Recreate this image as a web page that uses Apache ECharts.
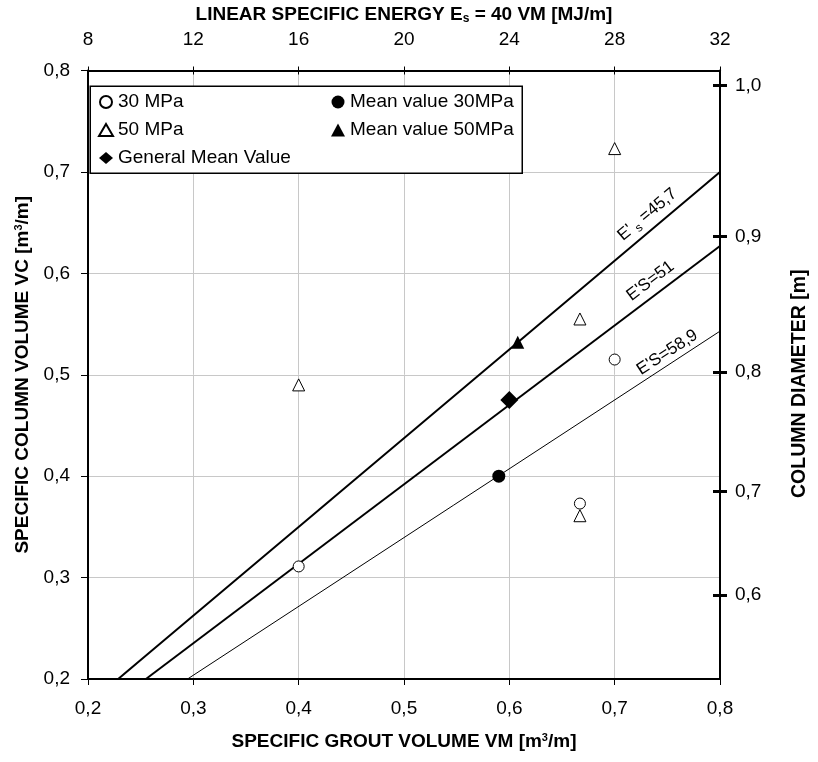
<!DOCTYPE html>
<html>
<head>
<meta charset="utf-8">
<script src="https://cdn.jsdelivr.net/npm/echarts@6/dist/echarts.min.js"></script>
<style>
  html, body { margin: 0; padding: 0; background: #fff; }
  #chart { width: 818px; height: 762px; }
</style>
</head>
<body>
<div id="chart"></div>
<script>
// measured points [VM, VC]
const mpa30 = [[0.4, 0.311], [0.667, 0.373], [0.7, 0.515]];
const mpa50 = [[0.4, 0.49], [0.667, 0.555], [0.667, 0.361], [0.7, 0.723]];
const mean30 = [[0.59, 0.40]];
const mean50 = [[0.608, 0.532]];
const generalMean = [[0.6, 0.475]];

// E's reference lines, end points
const lineEs457 = [[0.2286, 0.2], [0.8, 0.700]];
const lineEs51 = [[0.255, 0.2], [0.8, 0.627]];
const lineEs589 = [[0.2945, 0.2], [0.8, 0.543]];

// right axis: column diameter ticks
const diameterTicks = [0.6, 0.7, 0.8, 0.9, 1.0];

const FONT = "Liberation Sans";
const comma = (v, d) => v.toFixed(d).replace(".", ",");
// VC = pi * D^2 / 4
const diamPos = diameterTicks.map((d) => Math.PI * d * d / 4);

const chart = echarts.init(document.getElementById("chart"));

function openSym(name, data, symbol, size) {
  return {
    name, type: "scatter", data, symbol, symbolSize: size, z: 5,
    itemStyle: { color: "#fff", borderColor: "#000", borderWidth: 1, opacity: 1 },
  };
}
function filledSym(name, data, symbol, size) {
  return {
    name, type: "scatter", data, symbol, symbolSize: size, z: 5,
    itemStyle: { color: "#000", opacity: 1 },
  };
}
function refLine(data, width, label, pos, rot) {
  return {
    type: "line", data, symbol: "none", silent: true, z: 3,
    lineStyle: { color: "#000", width },
    markPoint: {
      symbol: "circle", symbolSize: 0, silent: true,
      data: [{ coord: pos }],
      label: {
        show: true, position: "inside", rotate: rot, formatter: label,
        fontFamily: FONT, fontSize: 17, color: "#000",
        rich: {
          a: { fontFamily: FONT, fontSize: 17, color: "#000" },
          s: { fontFamily: FONT, fontSize: 12, color: "#000", verticalAlign: "bottom", padding: [10, 0, 0, 0] },
        },
      },
    },
  };
}

const axisText = { fontFamily: FONT, fontSize: 19, color: "#000" };
const nameText = { fontFamily: FONT, fontSize: 19, fontWeight: "bold", color: "#000" };

const option = {
  animation: false,
  grid: { left: 88, right: 91.5, top: 69, bottom: 83 },
  legend: [
    {
      data: ["30 MPa", "50 MPa", "General Mean Value"],
      orient: "vertical", left: 98, top: 91, padding: 0,
      itemWidth: 14, itemHeight: 12, itemGap: 6, z: 6,
      textStyle: { fontFamily: FONT, fontSize: 19, color: "#000", lineHeight: 22 },
    },
    {
      data: ["Mean value 30MPa", "Mean value 50MPa"],
      orient: "vertical", left: 331, top: 91, padding: 0,
      itemWidth: 14, itemHeight: 13, itemGap: 6, z: 6,
      textStyle: { fontFamily: FONT, fontSize: 19, color: "#000", lineHeight: 22 },
    },
  ],
  graphic: [
    {
      type: "rect", z: 4, left: 89.5, top: 85.5,
      shape: { width: 432, height: 87 },
      style: { fill: "#fff", stroke: "#000", lineWidth: 1.5 },
    },
  ],
  xAxis: [
    {
      type: "value", position: "bottom", min: 0.2, max: 0.8, interval: 0.1,
      name: "SPECIFIC GROUT VOLUME VM [m{sup|3}/m]",
      nameLocation: "middle", nameGap: 53,
      nameTextStyle: Object.assign({}, nameText, {
        rich: { sup: { fontFamily: FONT, fontSize: 11, fontWeight: "bold", verticalAlign: "top", padding: [0, 0, 8, 0] } },
      }),
      axisLine: { show: true, onZero: false, lineStyle: { color: "#000", width: 2 } },
      axisTick: { show: true, length: 6, lineStyle: { color: "#000", width: 1 } },
      axisLabel: Object.assign({}, axisText, { margin: 20, formatter: (v) => comma(v, 1) }),
      splitLine: { show: true, lineStyle: { color: "#c8c8c8", width: 1 } },
    },
    {
      type: "value", position: "top", min: 8, max: 32, interval: 4,
      name: "{b|LINEAR SPECIFIC ENERGY E}{s|s}{b| = 40 VM [MJ/m]}",
      nameLocation: "middle", nameGap: 46,
      nameTextStyle: Object.assign({}, nameText, {
        rich: {
          b: { fontFamily: FONT, fontSize: 19, fontWeight: "bold", color: "#000" },
          s: { fontFamily: FONT, fontSize: 12, fontWeight: "bold", color: "#000", verticalAlign: "bottom", padding: [8, 0, 0, 0] },
        },
      }),
      axisLine: { show: true, onZero: false, lineStyle: { color: "#000", width: 2 } },
      axisTick: { show: true, length: 4, lineStyle: { color: "#000", width: 1 } },
      axisLabel: Object.assign({}, axisText, { margin: 21 }),
      splitLine: { show: false },
    },
    {
      // inner half of the top ticks
      type: "value", position: "top", min: 8, max: 32, interval: 4,
      axisLine: { show: false },
      axisTick: { show: true, inside: true, length: 4, lineStyle: { color: "#000", width: 1 } },
      axisLabel: { show: false },
      splitLine: { show: false },
    },
  ],
  yAxis: [
    {
      type: "value", position: "left", min: 0.2, max: 0.8, interval: 0.1,
      name: "SPECIFIC COLUMN VOLUME VC [m{sup|3}/m]",
      nameLocation: "middle", nameGap: 47, nameRotate: 90,
      nameTextStyle: Object.assign({}, nameText, {
        rich: { sup: { fontFamily: FONT, fontSize: 11, fontWeight: "bold", verticalAlign: "top", padding: [0, 0, 8, 0] } },
      }),
      axisLine: { show: true, onZero: false, lineStyle: { color: "#000", width: 2 } },
      axisTick: { show: true, length: 7, lineStyle: { color: "#000", width: 1 } },
      axisLabel: Object.assign({}, axisText, { margin: 18, formatter: (v) => comma(v, 1) }),
      splitLine: { show: true, lineStyle: { color: "#c8c8c8", width: 1 } },
    },
    {
      type: "value", position: "right", min: 0.2, max: 0.8,
      name: "COLUMN DIAMETER [m]",
      nameLocation: "middle", nameGap: 70, nameRotate: 90,
      nameTextStyle: Object.assign({}, nameText, { fontSize: 19.5, padding: [0, 18, 0, 0] }),
      axisLine: { show: true, onZero: false, lineStyle: { color: "#000", width: 2 } },
      axisTick: { show: true, length: 7, customValues: diamPos, lineStyle: { color: "#000", width: 3 } },
      axisLabel: Object.assign({}, axisText, {
        margin: 15, customValues: diamPos,
        formatter: (v) => comma(Math.sqrt(4 * v / Math.PI), 1),
      }),
      splitLine: { show: false },
    },
    {
      // inner half of the right ticks
      type: "value", position: "right", min: 0.2, max: 0.8,
      axisLine: { show: false },
      axisTick: { show: true, inside: true, length: 7, customValues: diamPos, lineStyle: { color: "#000", width: 3 } },
      axisLabel: { show: false },
      splitLine: { show: false },
    },
  ],
  series: [
    refLine(lineEs457, 2, "{a|E'}{s| s}{a| =45,7}", [0.731, 0.658], 40),
    refLine(lineEs51, 2, "{a|E'S=51}", [0.734, 0.5925], 37),
    refLine(lineEs589, 1, "{a|E'S=58,9}", [0.75, 0.522], 33),
    openSym("30 MPa", mpa30, "circle", 11),
    openSym("50 MPa", mpa50, "triangle", 12),
    filledSym("Mean value 30MPa", mean30, "circle", 13),
    filledSym("Mean value 50MPa", mean50, "triangle", 13),
    filledSym("General Mean Value", generalMean, "diamond", 18),
  ],
};

chart.setOption(option);
</script>
</body>
</html>
